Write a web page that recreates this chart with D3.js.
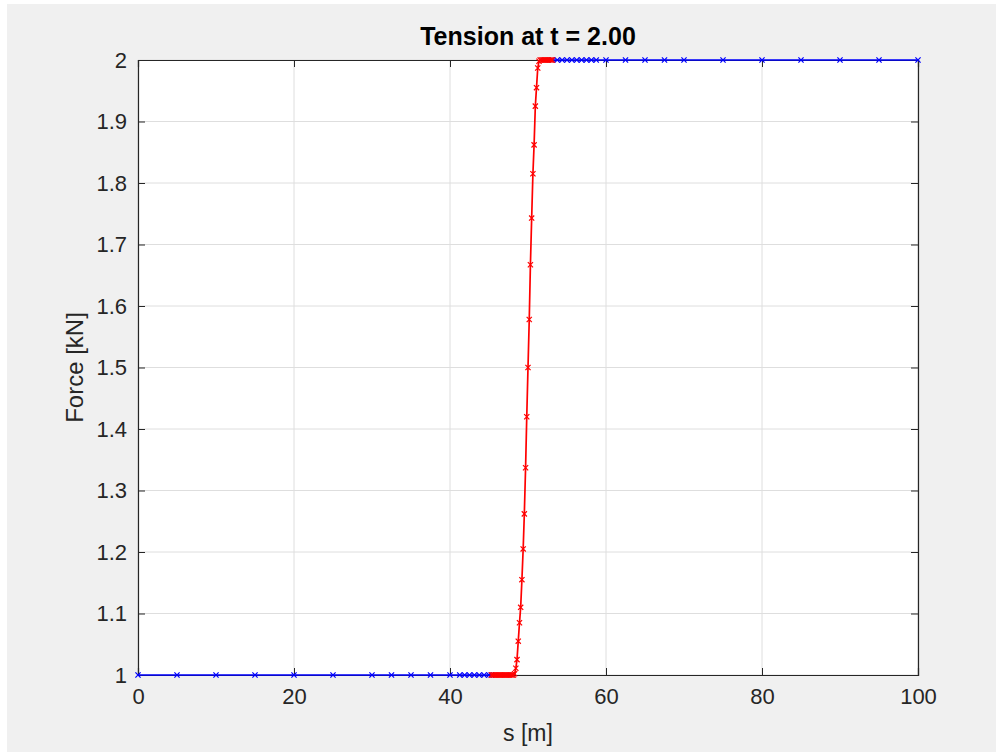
<!DOCTYPE html>
<html>
<head>
<meta charset="utf-8">
<script src="https://cdn.jsdelivr.net/npm/d3@7"></script>
<style>
  body { margin: 0; background: #fff; }
  svg { display: block; font-family: "Liberation Sans", Arial, sans-serif; }
</style>
</head>
<body>
<svg></svg>
<script>
// Coarse mesh (blue), left and right of the front
const leftS = [0, 5, 10, 15, 20, 25, 30, 32.5, 35, 37.5, 40, 41.25, 41.875, 42.5, 43.125, 43.75, 44.375, 45, 45.3];
const leftF = [1, 1, 1, 1, 1, 1, 1, 1, 1, 1, 1, 1, 1, 1, 1, 1, 1, 1, 1];
const rightS = [53.1, 53.75, 54.375, 55, 55.625, 56.25, 56.875, 57.5, 58.125, 58.75, 60, 62.5, 65, 67.5, 70, 75, 80, 85, 90, 95, 100];
const rightF = [2, 2, 2, 2, 2, 2, 2, 2, 2, 2, 2, 2, 2, 2, 2, 2, 2, 2, 2, 2, 2];

// Refined mesh (red) around the front
const fineS = [45.31, 45.47, 45.63, 45.78, 45.94, 46.09, 46.25, 46.41, 46.56, 46.72,
  46.88, 47.03, 47.19, 47.34, 47.5, 47.66, 47.81, 47.97, 48.13, 48.28,
  48.44, 48.59, 48.75, 48.91, 49.06, 49.22, 49.38, 49.53, 49.69, 49.84,
  50.0, 50.16, 50.31, 50.47, 50.63, 50.78, 50.94, 51.09, 51.25, 51.41,
  51.56, 51.72, 51.88, 52.03, 52.19, 52.34, 52.5, 52.66, 52.81, 52.97, 53.13];
const fineF = [1, 1, 1, 1, 1, 1, 1, 1, 1, 1,
  1, 1, 1, 1, 1, 1, 1, 1, 1, 1.002,
  1.011, 1.025, 1.055, 1.085, 1.11, 1.155, 1.205, 1.262, 1.337, 1.42,
  1.5, 1.578, 1.667, 1.743, 1.815, 1.862, 1.925, 1.955, 1.987, 1.998,
  2, 2, 2, 2, 2, 2, 2, 2, 2, 2, 2];

const xTicks = [0, 20, 40, 60, 80, 100];
const yTicks = [1, 1.1, 1.2, 1.3, 1.4, 1.5, 1.6, 1.7, 1.8, 1.9, 2];
const yTickLabels = ["1", "1.1", "1.2", "1.3", "1.4", "1.5", "1.6", "1.7", "1.8", "1.9", "2"];

let W = 996, H = 752;
let margin = { left: 138, right: 78, top: 60, bottom: 77 };
let iw = W - margin.left - margin.right, ih = H - margin.top - margin.bottom;
let axCol = "#262626";

let svg = d3.select("svg").attr("width", W).attr("height", H);

// figure background
svg.append("rect").attr("x", 7).attr("y", 4).attr("width", W - 7).attr("height", H - 4).attr("fill", "#f0f0f0");

let x = d3.scaleLinear().domain([0, 100]).range([0, iw]);
let y = d3.scaleLinear().domain([1, 2]).range([ih, 0]);

let g = svg.append("g").attr("transform", `translate(${margin.left},${margin.top})`);
g.append("rect").attr("width", iw).attr("height", ih).attr("fill", "#fff");

// grid
g.append("g").selectAll("line").data(xTicks).enter().append("line")
  .attr("x1", d => x(d)).attr("x2", d => x(d)).attr("y1", 0).attr("y2", ih)
  .attr("stroke", "#dedede").attr("stroke-width", 1);
g.append("g").selectAll("line").data(yTicks).enter().append("line")
  .attr("y1", d => y(d)).attr("y2", d => y(d)).attr("x1", 0).attr("x2", iw)
  .attr("stroke", "#dedede").attr("stroke-width", 1);

// axes, ticks pointing inward on all sides
let tl = 7;
let xb = g.append("g").attr("transform", `translate(0,${ih})`)
  .call(d3.axisBottom(x).tickValues(xTicks).tickSize(-tl).tickPadding(13));
let xt = g.append("g").call(d3.axisTop(x).tickValues(xTicks).tickSize(-tl).tickFormat(""));
let yl = g.append("g")
  .call(d3.axisLeft(y).tickValues(yTicks).tickSize(-tl).tickPadding(11).tickFormat((d, i) => yTickLabels[i]));
let yr = g.append("g").attr("transform", `translate(${iw},0)`)
  .call(d3.axisRight(y).tickValues(yTicks).tickSize(-tl).tickFormat(""));

[xb, xt, yl, yr].forEach(a => {
  a.select(".domain").attr("stroke", axCol).attr("stroke-width", 1.2);
  a.selectAll(".tick line").attr("stroke", axCol);
  a.selectAll(".tick text").attr("fill", axCol).style("font-size", "22px");
});
xb.selectAll(".tick text").attr("dy", "0.71em");

// series
let line = d3.line().x(d => x(d[0])).y(d => y(d[1]));
let cross = 2.6;

function drawSeries(sv, fv, col) {
  let pts = d3.zip(sv, fv);
  g.append("path").datum(pts).attr("d", line)
    .attr("fill", "none").attr("stroke", col).attr("stroke-width", 1.7);
  g.append("g").selectAll("path").data(pts).enter().append("path")
    .attr("d", d => {
      let cx = x(d[0]), cy = y(d[1]);
      return `M${cx - cross},${cy - cross}L${cx + cross},${cy + cross}M${cx - cross},${cy + cross}L${cx + cross},${cy - cross}`;
    })
    .attr("stroke", col).attr("stroke-width", 1.2);
}

drawSeries(leftS, leftF, "#0000ff");
drawSeries(rightS, rightF, "#0000ff");
drawSeries(fineS, fineF, "#ff0000");

// labels
svg.append("text").attr("x", margin.left + iw / 2).attr("y", 45)
  .attr("text-anchor", "middle").attr("font-weight", "bold").attr("fill", "#000")
  .style("font-size", "25px").text("Tension at t = 2.00");
svg.append("text").attr("x", margin.left + iw / 2).attr("y", 741)
  .attr("text-anchor", "middle").attr("fill", axCol)
  .style("font-size", "23px").text("s [m]");
svg.append("text").attr("transform", `translate(83,${margin.top + ih / 2}) rotate(-90)`)
  .attr("text-anchor", "middle").attr("fill", axCol)
  .style("font-size", "24px").text("Force [kN]");
</script>
</body>
</html>
